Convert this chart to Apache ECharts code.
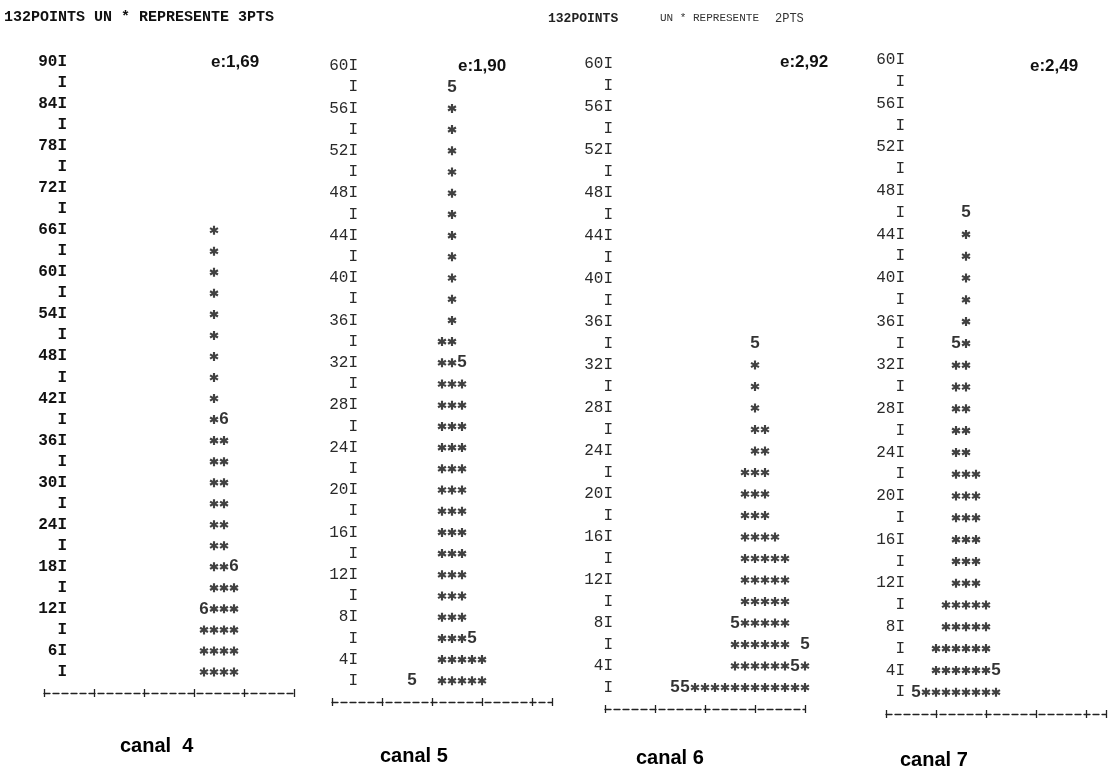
<!DOCTYPE html>
<html><head><meta charset="utf-8">
<script src="https://cdn.jsdelivr.net/npm/echarts@6/dist/echarts.min.js"></script>
<style>html,body{margin:0;padding:0;background:#fff}#c{width:1113px;height:779px}</style>
</head><body><div id="c"></div>
<script>
// ---- data (histogram columns: bin index, count in points) ----
// canal 4 : one * = 3 pts
const c4Bins = [16, 17, 18, 19];
const c4Counts = [9, 66, 36, 15];
const c4MarkBins = [16, 18, 19];
const c4MarkVals = [12, 39, 18];
const c4MarkText = ['6', '6', '6'];
const c4TickLabels = [90, 84, 78, 72, 66, 60, 54, 48, 42, 36, 30, 24, 18, 12, 6];
const c4Step = 3, c4Max = 90, c4E = 'e:1,69';

// canal 5 : one * = 2 pts
const c5Bins = [11, 12, 13, 14, 15];
const c5Counts = [34, 56, 30, 4, 4];
const c5MarkBins = [8, 12, 13, 14];
const c5MarkVals = [2, 58, 32, 6];
const c5MarkText = ['5', '5', '5', '5'];
const c5TickLabels = [60, 56, 52, 48, 44, 40, 36, 32, 28, 24, 20, 16, 12, 8, 4];
const c5Step = 2, c5Max = 60, c5E = 'e:1,90';

// canal 6 : one * = 2 pts
const c6Bins = [9, 10, 11, 12, 13, 14, 15, 16, 17, 18, 19, 20];
const c6Counts = [2, 2, 2, 2, 6, 22, 32, 26, 16, 14, 2, 4];
const c6MarkBins = [7, 8, 13, 15, 19, 20];
const c6MarkVals = [2, 2, 8, 34, 4, 6];
const c6MarkText = ['5', '5', '5', '5', '5', '5'];
const c6TickLabels = [60, 56, 52, 48, 44, 40, 36, 32, 28, 24, 20, 16, 12, 8, 4];
const c6Step = 2, c6Max = 60, c6E = 'e:2,92';

// canal 7 : one * = 2 pts
const c7Bins = [4, 5, 6, 7, 8, 9, 10, 11];
const c7Counts = [2, 6, 10, 32, 44, 22, 10, 2];
const c7MarkBins = [3, 7, 8, 11];
const c7MarkVals = [2, 34, 46, 4];
const c7MarkText = ['5', '5', '5', '5'];
const c7TickLabels = [60, 56, 52, 48, 44, 40, 36, 32, 28, 24, 20, 16, 12, 8, 4];
const c7Step = 2, c7Max = 60, c7E = 'e:2,49';

const panelNames = ['canal  4', 'canal 5', 'canal 6', 'canal 7'];

// ---- layout (pixels) ----
const layout = [
  {left: 44,  labelRight: 67,  top: 62, bottom: 693, pitch: 10, n: 25, bold: true,
   eX: 211, eY: 54, nameX: 120, nameY: 736},
  {left: 332, labelRight: 358, top: 66, bottom: 702, pitch: 10, n: 22, bold: false,
   eX: 458, eY: 58, nameX: 380, nameY: 746},
  {left: 605, labelRight: 613, top: 64, bottom: 709, pitch: 10, n: 20, bold: false,
   eX: 780, eY: 54, nameX: 636, nameY: 748},
  {left: 886, labelRight: 905, top: 60, bottom: 714, pitch: 10, n: 22, bold: false,
   eX: 1030, eY: 58, nameX: 900, nameY: 750}
];

const panels = [
  {bins: c4Bins, counts: c4Counts, mb: c4MarkBins, mv: c4MarkVals, mt: c4MarkText, ticks: c4TickLabels, step: c4Step, max: c4Max, e: c4E},
  {bins: c5Bins, counts: c5Counts, mb: c5MarkBins, mv: c5MarkVals, mt: c5MarkText, ticks: c5TickLabels, step: c5Step, max: c5Max, e: c5E},
  {bins: c6Bins, counts: c6Counts, mb: c6MarkBins, mv: c6MarkVals, mt: c6MarkText, ticks: c6TickLabels, step: c6Step, max: c6Max, e: c6E},
  {bins: c7Bins, counts: c7Counts, mb: c7MarkBins, mv: c7MarkVals, mt: c7MarkText, ticks: c7TickLabels, step: c7Step, max: c7Max, e: c7E}
];

// six-armed asterisk glyph
const STAR = 'path://M3.8 0L6.2 0L6.2 10L3.8 10Z M-0.03 3.7L1.17 1.62L10.03 6.3L8.83 8.38Z M1.17 8.38L-0.03 6.3L8.83 1.62L10.03 3.7Z';

const grid = [], xAxis = [], yAxis = [], series = [], graphic = [];
panels.forEach((p, k) => {
  const L = layout[k];
  grid.push({left: L.left, top: L.top, width: L.pitch * L.n, height: L.bottom - L.top, containLabel: false});
  const axLine = {color: '#222', width: 1.3};
  xAxis.push({type: 'value', gridIndex: k, position: 'bottom', min: 0, max: L.n, interval: 5,
    axisLine: {show: true, onZero: false, lineStyle: Object.assign({type: [6, 3]}, axLine)},
    axisTick: {show: true, inside: false, length: 4, lineStyle: axLine},
    axisLabel: {show: false}, splitLine: {show: false}});
  xAxis.push({type: 'value', gridIndex: k, position: 'bottom', offset: 0, min: 0, max: L.n, interval: 5,
    axisLine: {show: false, onZero: false},
    axisTick: {show: true, inside: true, length: 4, lineStyle: axLine},
    axisLabel: {show: false}, splitLine: {show: false}});
  yAxis.push({type: 'value', gridIndex: k, min: 0, max: p.max, interval: p.step,
    offset: -(L.labelRight + 2 - L.left),
    axisLine: {show: false}, axisTick: {show: false}, splitLine: {show: false},
    axisLabel: {show: true, margin: 2, color: k === 0 ? '#111' : '#2a2a2a',
      fontFamily: '"Liberation Mono", "DejaVu Sans Mono", monospace',
      fontSize: 16, fontWeight: L.bold ? 'bold' : 'normal',
      formatter: v => v === 0 ? '' : (p.ticks.indexOf(v) >= 0 ? v + 'I' : 'I')}});
  const pts = [];
  p.bins.forEach((b, i) => { for (let v = p.step; v <= p.counts[i]; v += p.step) pts.push([b, v]); });
  series.push({type: 'scatter', xAxisIndex: 2 * k, yAxisIndex: k, data: pts,
    symbol: STAR, symbolSize: [9, 9], itemStyle: {color: '#111'}, silent: true, animation: false});
  series.push({type: 'scatter', xAxisIndex: 2 * k, yAxisIndex: k,
    data: p.mb.map((b, i) => [b, p.mv[i], p.mt[i]]),
    symbol: 'circle', symbolSize: 2, itemStyle: {color: 'rgba(0,0,0,0)'}, silent: true, animation: false,
    label: {show: true, position: 'inside', formatter: d => d.value[2], textBorderWidth: 0,
      color: '#000', fontFamily: '"Liberation Sans", Arial, sans-serif', fontWeight: 'bold', fontSize: 17}});
  graphic.push({type: 'text', left: L.eX, top: L.eY,
    style: {text: p.e, fill: '#111', font: 'bold 17px "Liberation Sans", Arial, sans-serif'}});
  graphic.push({type: 'text', left: L.nameX, top: L.nameY,
    style: {text: panelNames[k], fill: '#000', font: 'bold 20px "Liberation Sans", Arial, sans-serif'}});
});

graphic.push({type: 'text', left: 4, top: 10,
  style: {text: '132POINTS UN * REPRESENTE 3PTS', fill: '#111', font: 'bold 15px "Liberation Mono", monospace'}});
graphic.push({type: 'text', left: 548, top: 12,
  style: {text: '132POINTS', fill: '#222', font: 'bold 13px "Liberation Mono", monospace'}});
graphic.push({type: 'text', left: 660, top: 13,
  style: {text: 'UN * REPRESENTE', fill: '#333', font: '11px "Liberation Mono", monospace'}});
graphic.push({type: 'text', left: 775, top: 13,
  style: {text: '2PTS', fill: '#333', font: '12px "Liberation Mono", monospace'}});

const chart = echarts.init(document.getElementById('c'), null, {renderer: 'canvas'});
chart.setOption({backgroundColor: '#fff', animation: false, grid, xAxis, yAxis, series, graphic});
</script></body></html>
